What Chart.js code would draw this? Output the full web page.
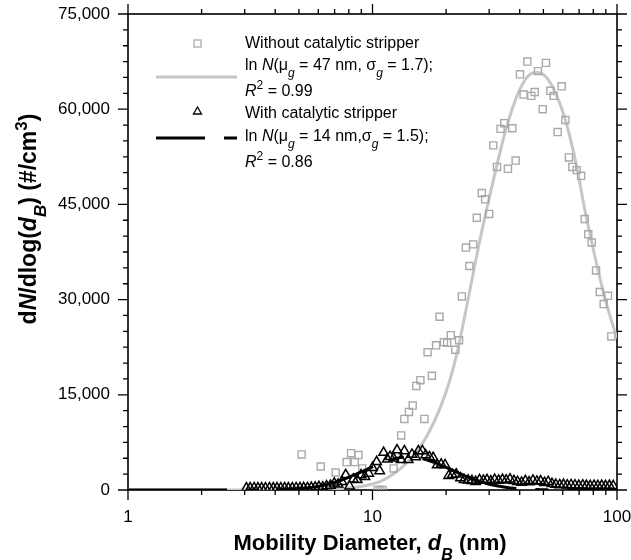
<!DOCTYPE html>
<html>
<head>
<meta charset="utf-8">
<script src="https://cdn.jsdelivr.net/npm/chart.js@4.4.1/dist/chart.umd.min.js"></script>
<style>
  html, body { margin: 0; padding: 0; background: #fff; }
  #wrap { width: 631px; height: 560px; }
</style>
</head>
<body>
<div id="wrap"><canvas id="chart" width="631" height="560"></canvas></div>
<script>
// x tick labels (log axis) and y tick step
const xTicks = [1, 10, 100];
const yMax = 75000;
const yStep = 15000;

// Without catalytic stripper (gray squares)
const withoutD = [5.13, 6.14, 7.07, 7.84, 8.17, 8.46, 8.76, 9.08, 10.5, 10.73, 10.99, 12.2, 13.1, 13.5, 14.1, 14.6, 15.1, 15.7, 16.3, 16.8, 17.5,
  18.2, 18.8, 19.6, 20.2, 20.9, 21.8, 22.6, 23.2, 24.1, 24.9, 25.8, 26.7, 28.0, 28.9, 30.0, 31.2, 32.3, 33.4, 34.6, 35.8,
  37.3, 38.5, 40.1, 41.5, 43.0, 44.6, 46.1, 47.5, 49.7, 51.2, 53.4, 55.1, 57.2, 59.4, 61.5, 63.6, 65.7, 68.4, 71.3, 73.8,
  76.3, 78.8, 82.1, 85.0, 88.2, 91.9, 94.8];
const withoutN = [5600, 3700, 2760, 4400, 5800, 4400, 5500, 3400, 0, 0, 0, 3400, 8600, 11200, 12300, 13300, 16400, 17300, 11200, 21700, 18000,
  22800, 27300, 23300, 23200, 24400, 22100, 23600, 30500, 38200, 35300, 38700, 42900, 46800, 45800, 43500, 54300, 50900, 56900, 57800, 50600,
  57000, 51900, 65500, 62300, 67500, 62100, 62700, 66000, 60000, 67300, 62900, 62100, 56400, 63600, 58300, 52400, 50900, 50400, 49500, 42700,
  40300, 39000, 34600, 31200, 29300, 30600, 24200];

// With catalytic stripper (black triangles)
const withD = [3.05, 3.16, 3.28, 3.40, 3.52, 3.65, 3.79, 3.93, 4.07, 4.22, 4.37, 4.53, 4.70, 4.87,
  5.05, 5.23, 5.42, 5.62, 5.83, 6.04, 6.26, 6.49, 6.73, 6.98, 7.23, 7.50, 7.77, 8.06, 8.35, 8.66, 8.98, 9.31, 9.65,
  10.0, 10.4, 10.7, 11.1, 11.5, 11.8, 12.2, 12.6, 13.1, 13.5, 14.0, 14.5, 15.0, 15.4, 16.0, 16.5, 17.1, 17.7, 18.4, 19.1,
  19.8, 20.5, 21.2, 22.0, 22.9, 23.7, 24.6, 25.5, 26.4, 27.4, 28.4, 29.4, 30.5, 31.6, 32.8, 34.0, 35.2, 36.5, 37.9, 39.2,
  40.7, 42.2, 43.7, 45.3, 47.0, 48.7, 50.5, 52.3, 54.2, 56.2, 58.3, 60.4, 62.6, 64.9, 67.3, 69.8, 72.4, 75.0, 77.7, 80.6,
  83.5, 86.6, 89.8, 93.1, 96.5];
const withN = [300, 300, 320, 300, 310, 300, 320, 300, 310, 300, 320, 310, 300, 330,
  320, 350, 330, 380, 420, 500, 450, 620, 700, 1050, 900, 1300, 2400, 600, 1700, 1600, 2350, 2100, 2600,
  3500, 4450, 3000, 5900, 4850, 5250, 5000, 6300, 4750, 6150, 4750, 5600, 5200, 6150, 6150, 5500, 5200, 5100, 3950, 4050,
  3950, 2250, 2400, 2500, 1900, 1600, 1550, 1450, 1300, 1600, 1500, 1600, 1400, 1650, 1500, 1650, 1550, 1700, 1450, 1300,
  1200, 1450, 1250, 1500, 1350, 1400, 1150, 1300, 1000, 850, 800, 850, 750, 800, 750, 700, 750, 700, 650, 700,
  650, 700, 650, 700, 650];

// fitted lognormal curves
const fitWithoutD = [1, 3, 5, 6, 7, 8, 9, 10, 11, 12.2, 13.5, 15, 16.7, 18.9, 20.8, 22.5, 24.5, 27.5, 31.2, 35.3, 39.9,
  44, 47, 51, 56, 61.5, 68.4, 73.8, 82.1, 88.2, 94, 100];
const fitWithoutN = [0, 0, 0, 40, 130, 300, 560, 950, 1500, 2550, 3900, 5800, 8500, 12900, 17500, 22700, 29700, 39400, 48800, 57100, 63000,
  65500, 65800, 65200, 62600, 58300, 51000, 44200, 36000, 31000, 27200, 23900];
const fitWithD = [1, 3, 5, 6, 7, 8, 9, 10, 11, 12, 13, 14, 15, 16, 17, 18, 20, 22, 24, 26, 28, 30, 35, 40, 45, 50, 60, 100];
const fitWithN = [0, 0, 200, 570, 1200, 2000, 2850, 3650, 4250, 4800, 5100, 5200, 5150, 4950, 4650, 4300, 3550, 2850, 2200, 1650, 1250, 900, 420, 190, 90, 40, 0, 0];

const FONT = "'Liberation Sans', Arial, Helvetica, sans-serif";
const GRAY_LINE = "#c6c6c6";
const GRAY_MARK = "#a9a9a9";

function pts(xs, ys) {
  return xs.map((x, i) => ({ x: x, y: ys[i] }));
}

// draw a run of text pieces (italic / sub / sup) left to right
function drawRuns(ctx, runs, x, y, size, weight) {
  let cx = x;
  runs.forEach(r => {
    const s = r.sub || r.sup ? Math.round(size * 0.72) : size;
    ctx.font = (r.it ? "italic " : "") + weight + " " + s + "px " + FONT;
    const dy = r.sub ? size * 0.45 : (r.sup ? -size * 0.38 : 0);
    ctx.fillText(r.t, cx, y + dy);
    cx += ctx.measureText(r.t).width;
  });
  return cx - x;
}

function runsWidth(ctx, runs, size, weight) {
  let w = 0;
  runs.forEach(r => {
    const s = r.sub || r.sup ? Math.round(size * 0.72) : size;
    ctx.font = (r.it ? "italic " : "") + weight + " " + s + "px " + FONT;
    w += ctx.measureText(r.t).width;
  });
  return w;
}

const framePlugin = {
  id: "frame",
  beforeDatasetsDraw(chart) {
    const { ctx, chartArea: a, scales } = chart;
    ctx.save();
    ctx.strokeStyle = "#000";
    ctx.lineWidth = 1.6;
    ctx.strokeRect(a.left, a.top, a.right - a.left, a.bottom - a.top);
    ctx.lineWidth = 1.3;
    ctx.beginPath();
    // x ticks, outward on bottom and top
    for (let dec = 1; dec < 100; dec *= 10) {
      for (let k = 1; k <= 10; k++) {
        const v = dec * k;
        const px = scales.x.getPixelForValue(v);
        const len = (k === 1 || k === 10) ? 10 : 5;
        ctx.moveTo(px, a.bottom); ctx.lineTo(px, a.bottom + len);
        ctx.moveTo(px, a.top); ctx.lineTo(px, a.top - len);
      }
    }
    // y ticks, outward on left and right
    for (let v = 0; v <= yMax; v += 2500) {
      const py = scales.y.getPixelForValue(v);
      const len = v % yStep === 0 ? 10 : 5;
      ctx.moveTo(a.left, py); ctx.lineTo(a.left - len, py);
      ctx.moveTo(a.right, py); ctx.lineTo(a.right + len, py);
    }
    ctx.stroke();

    // tick labels
    ctx.fillStyle = "#000";
    ctx.font = "17px " + FONT;
    ctx.textBaseline = "middle";
    ctx.textAlign = "right";
    for (let v = 0; v <= yMax; v += yStep) {
      ctx.fillText(v.toLocaleString("en-US"), a.left - 18, scales.y.getPixelForValue(v));
    }
    ctx.textAlign = "center";
    xTicks.forEach(v => {
      ctx.fillText(String(v), scales.x.getPixelForValue(v), a.bottom + 27);
    });
    ctx.restore();
  },
  afterDraw(chart) {
    const { ctx } = chart;
    ctx.save();
    ctx.fillStyle = "#000";
    ctx.textBaseline = "alphabetic";

    // x axis title
    const xt = [{ t: "Mobility Diameter, " }, { t: "d", it: true }, { t: "B", it: true, sub: true }, { t: " (nm)" }];
    const xw = runsWidth(ctx, xt, 22, "bold");
    drawRuns(ctx, xt, 370 - xw / 2, 550, 22, "bold");

    // y axis title
    const yt = [{ t: "d" }, { t: "N", it: true }, { t: "/dlog(" }, { t: "d", it: true }, { t: "B", it: true, sub: true },
      { t: ") (#/cm" }, { t: "3", sup: true }, { t: ")" }];
    const yw = runsWidth(ctx, yt, 23, "bold");
    ctx.translate(36, 219);
    ctx.rotate(-Math.PI / 2);
    drawRuns(ctx, yt, -yw / 2, 0, 23, "bold");
    ctx.restore();

    // legend
    ctx.save();
    ctx.fillStyle = "#000";
    ctx.textBaseline = "middle";
    const tx = 245;
    drawRuns(ctx, [{ t: "Without catalytic stripper" }], tx, 44, 16, "normal");
    drawRuns(ctx, [{ t: "ln " }, { t: "N", it: true }, { t: "(\u03bc" }, { t: "g", it: true, sub: true },
      { t: " = 47 nm, \u03c3" }, { t: "g", it: true, sub: true }, { t: " = 1.7);" }], tx, 66, 16, "normal");
    drawRuns(ctx, [{ t: "R", it: true }, { t: "2", sup: true }, { t: " = 0.99" }], tx, 92, 16, "normal");
    drawRuns(ctx, [{ t: "With catalytic stripper" }], tx, 114, 16, "normal");
    drawRuns(ctx, [{ t: "ln " }, { t: "N", it: true }, { t: "(\u03bc" }, { t: "g", it: true, sub: true },
      { t: " = 14 nm,\u03c3" }, { t: "g", it: true, sub: true }, { t: " = 1.5);" }], tx, 137, 16, "normal");
    drawRuns(ctx, [{ t: "R", it: true }, { t: "2", sup: true }, { t: " = 0.86" }], tx, 163, 16, "normal");

    // legend symbols
    ctx.strokeStyle = GRAY_MARK;
    ctx.lineWidth = 1.3;
    ctx.strokeRect(194, 40, 7, 7);
    ctx.strokeStyle = GRAY_LINE;
    ctx.lineWidth = 3;
    ctx.beginPath(); ctx.moveTo(156, 77); ctx.lineTo(237, 77); ctx.stroke();
    ctx.strokeStyle = "#000";
    ctx.lineWidth = 1.3;
    ctx.beginPath();
    ctx.moveTo(197.5, 107); ctx.lineTo(201.5, 114); ctx.lineTo(193.5, 114); ctx.closePath();
    ctx.stroke();
    ctx.lineWidth = 3;
    ctx.beginPath();
    ctx.moveTo(156, 138); ctx.lineTo(205, 138);
    ctx.moveTo(224, 138); ctx.lineTo(237, 138);
    ctx.stroke();
    ctx.restore();
  }
};

const chart = new Chart(document.getElementById("chart"), {
  type: "scatter",
  data: {
    datasets: [
      {
        label: "With catalytic stripper",
        data: pts(withD, withN),
        pointStyle: "triangle",
        pointRadius: 5.5,
        borderColor: "#000",
        backgroundColor: "rgba(255,255,255,0)",
        pointBorderWidth: 1.5,
        showLine: false,
        order: 1
      },
      {
        label: "ln N fit (14 nm, 1.5)",
        data: pts(fitWithD, fitWithN),
        showLine: true,
        borderColor: "#000",
        borderWidth: 3,
        borderDash: [99, 19, 13, 19],
        pointRadius: 0,
        cubicInterpolationMode: "monotone",
        order: 2
      },
      {
        label: "Without catalytic stripper",
        data: pts(withoutD, withoutN),
        pointStyle: "rect",
        pointRadius: 5,
        borderColor: GRAY_MARK,
        backgroundColor: "rgba(255,255,255,0)",
        pointBorderWidth: 1.4,
        showLine: false,
        order: 3
      },
      {
        label: "ln N fit (47 nm, 1.7)",
        data: pts(fitWithoutD, fitWithoutN),
        showLine: true,
        borderColor: GRAY_LINE,
        borderWidth: 3,
        pointRadius: 0,
        cubicInterpolationMode: "monotone",
        order: 4
      }
    ]
  },
  options: {
    responsive: false,
    animation: false,
    layout: { padding: { left: 0, right: 14, top: 14, bottom: 0 } },
    plugins: { legend: { display: false }, tooltip: { enabled: false } },
    scales: {
      x: {
        type: "logarithmic",
        min: 1,
        max: 100,
        grid: { display: false, drawTicks: false },
        border: { display: false },
        afterBuildTicks: s => { s.ticks = xTicks.map(v => ({ value: v })); },
        afterFit: s => { s.height = 70; },
        ticks: { display: false }
      },
      y: {
        min: 0,
        max: yMax,
        grid: { display: false, drawTicks: false },
        border: { display: false },
        afterFit: s => { s.width = 128; },
        ticks: { display: false, stepSize: yStep }
      }
    }
  },
  plugins: [framePlugin]
});
</script>
</body>
</html>
